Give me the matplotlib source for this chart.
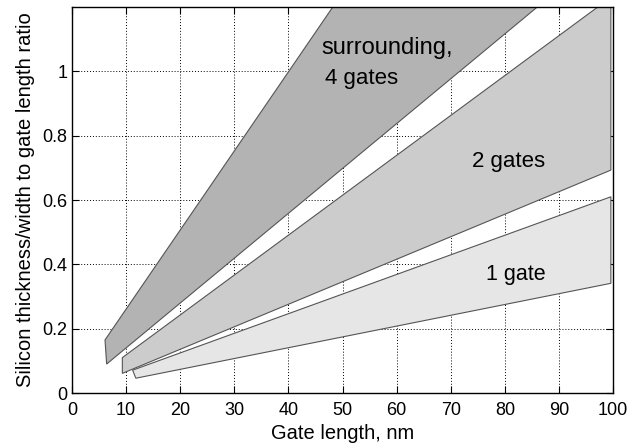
import numpy as np
import matplotlib
matplotlib.use('Agg')
import matplotlib.pyplot as plt

plt.rcParams['font.family'] = ['Liberation Sans', 'DejaVu Sans']

# bands: upper and lower boundary lines, (x, y) at start and end
band_names = ['surrounding, 4 gates', '2 gates', '1 gate']
upper_x = [[6.1, 48.2], [9.3, 99.6], [11.2, 99.6]]
upper_y = [[0.165, 1.2], [0.11, 1.23], [0.071, 0.61]]
lower_x = [[6.4, 86.0], [9.3, 99.6], [11.8, 99.6]]
lower_y = [[0.09, 1.2], [0.061, 0.693], [0.046, 0.341]]
band_colors = ['#b3b3b3', '#cccccc', '#e6e6e6']

x_ticks = np.arange(0, 101, 10)
y_ticks = [0, 0.2, 0.4, 0.6, 0.8, 1]

fig = plt.figure(figsize=(6.29, 4.47), dpi=100, facecolor='w')
ax = fig.add_axes([0.1145, 0.1208, 0.8601, 0.8635])

for i in range(len(band_names)):
    px = upper_x[i] + lower_x[i][::-1]
    py = upper_y[i] + lower_y[i][::-1]
    ax.fill(px, py, facecolor=band_colors[i], edgecolor='#555555', lw=0.8, zorder=2)

ax.set_xlim(0, 100)
ax.set_ylim(0, 1.2)
ax.set_xticks(x_ticks)
ax.set_yticks(y_ticks)
ax.set_yticklabels(['0', '0.2', '0.4', '0.6', '0.8', '1'])
ax.tick_params(direction='in', top=True, right=True, length=5, labelsize=13, width=0.8)
ax.tick_params(axis='x', pad=6.5)
ax.grid(True, color='k', ls=(0, (1, 2)), lw=0.7, zorder=1)
ax.set_axisbelow(True)
for s in ax.spines.values():
    s.set_linewidth(1.0)

ax.set_xlabel('Gate length, nm', fontsize=14.5, labelpad=3.5)
ax.set_ylabel('Silicon thickness/width to gate length ratio', fontsize=14.5, labelpad=5)

ax.text(46.1, 1.055, 'surrounding,', fontsize=17, va='baseline', zorder=3)
ax.text(46.8, 0.962, '4 gates', fontsize=16, va='baseline', zorder=3)
ax.text(73.9, 0.703, '2 gates', fontsize=16, va='baseline', zorder=3)
ax.text(76.6, 0.351, '1 gate', fontsize=15.5, va='baseline', zorder=3)

fig.savefig('out.png', dpi=100)
